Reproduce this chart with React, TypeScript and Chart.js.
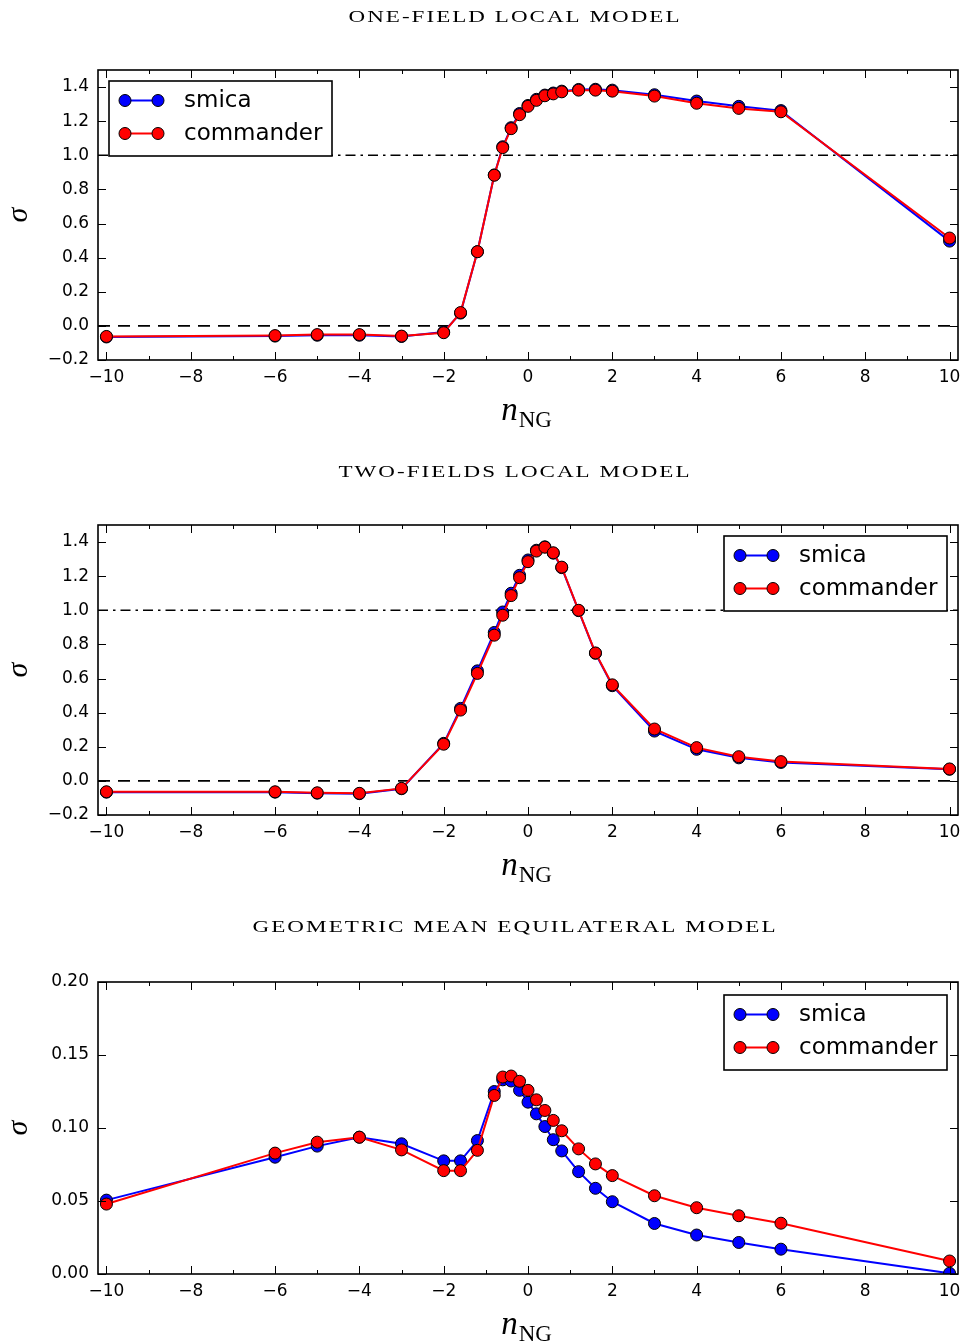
import React, { useEffect, useRef } from 'react';
import { Chart, registerables } from 'chart.js';

Chart.register(...registerables);

// Non-Gaussianity index sampled on the same grid for every model
const nNG = [-10, -6, -5, -4, -3, -2, -1.6, -1.2, -0.8, -0.6, -0.4, -0.2, 0, 0.2, 0.4, 0.6, 0.8, 1.2, 1.6, 2, 3, 4, 5, 6, 10];

const xTickValues = [-10, -9, -8, -7, -6, -5, -4, -3, -2, -1, 0, 1, 2, 3, 4, 5, 6, 7, 8, 9, 10];

const oneFieldSmica = [-0.065, -0.06, -0.055, -0.055, -0.062, -0.036, 0.075, 0.435, 0.885, 1.05, 1.162, 1.245, 1.292, 1.328, 1.353, 1.365, 1.376, 1.386, 1.387, 1.382, 1.355, 1.318, 1.287, 1.262, 0.497];
const oneFieldCommander = [-0.062, -0.057, -0.051, -0.051, -0.06, -0.04, 0.078, 0.435, 0.883, 1.045, 1.156, 1.238, 1.287, 1.322, 1.349, 1.36, 1.372, 1.382, 1.382, 1.376, 1.347, 1.305, 1.275, 1.255, 0.515];

const twoFieldsSmica = [-0.066, -0.066, -0.072, -0.075, -0.046, 0.22, 0.425, 0.645, 0.87, 0.99, 1.1, 1.205, 1.295, 1.352, 1.372, 1.335, 1.25, 0.998, 0.748, 0.558, 0.292, 0.185, 0.135, 0.108, 0.068];
const twoFieldsCommander = [-0.064, -0.064, -0.07, -0.073, -0.044, 0.215, 0.415, 0.63, 0.854, 0.971, 1.086, 1.191, 1.285, 1.347, 1.37, 1.337, 1.253, 1.0, 0.75, 0.563, 0.304, 0.195, 0.142, 0.113, 0.07];

const equilateralSmica = [0.0506, 0.08, 0.0876, 0.0937, 0.0892, 0.0775, 0.0775, 0.0914, 0.125, 0.133, 0.1322, 0.1258, 0.1177, 0.1097, 0.101, 0.092, 0.0843, 0.0701, 0.0587, 0.0495, 0.0346, 0.0267, 0.0216, 0.017, 0.0005];
const equilateralCommander = [0.0479, 0.0828, 0.0903, 0.0937, 0.085, 0.0708, 0.0708, 0.0847, 0.1223, 0.1349, 0.1356, 0.132, 0.1258, 0.1193, 0.112, 0.1052, 0.0981, 0.0857, 0.0754, 0.0674, 0.0536, 0.0454, 0.0399, 0.0348, 0.0089];

const sigmaTicksLocal = [-0.2, 0, 0.2, 0.4, 0.6, 0.8, 1.0, 1.2, 1.4];
const sigmaTicksEquil = [0, 0.05, 0.1, 0.15, 0.2];

const seriesNames = ['smica', 'commander'];
const seriesColors = ['#0000ff', '#ff0000'];

const DASHED = [12, 8];
const DASH_DOT = [10, 5, 2.5, 5];

const TICK_FONT = '17px "DejaVu Sans"';

type PanelSpec = {
  title: string;
  titleWidth: number;
  smica: number[];
  commander: number[];
  yMin: number;
  yMax: number;
  yTicks: number[];
  yDecimals: number;
  refLines: { value: number; dash: number[] }[];
  legendLeft: number;
  legendTop: number;
  height: number;
  top: number;
  bottom: number;
};

const panels: PanelSpec[] = [
  {
    title: 'ONE-FIELD LOCAL MODEL',
    titleWidth: 331,
    smica: oneFieldSmica,
    commander: oneFieldCommander,
    yMin: -0.2,
    yMax: 1.5,
    yTicks: sigmaTicksLocal,
    yDecimals: 1,
    refLines: [
      { value: 0, dash: DASHED },
      { value: 1, dash: DASH_DOT },
    ],
    legendLeft: 109,
    legendTop: 81,
    height: 455,
    top: 70,
    bottom: 360,
  },
  {
    title: 'TWO-FIELDS LOCAL MODEL',
    titleWidth: 351,
    smica: twoFieldsSmica,
    commander: twoFieldsCommander,
    yMin: -0.2,
    yMax: 1.5,
    yTicks: sigmaTicksLocal,
    yDecimals: 1,
    refLines: [
      { value: 0, dash: DASHED },
      { value: 1, dash: DASH_DOT },
    ],
    legendLeft: 724,
    legendTop: 81,
    height: 455,
    top: 70,
    bottom: 360,
  },
  {
    title: 'GEOMETRIC MEAN EQUILATERAL MODEL',
    titleWidth: 523,
    smica: equilateralSmica,
    commander: equilateralCommander,
    yMin: 0,
    yMax: 0.2,
    yTicks: sigmaTicksEquil,
    yDecimals: 2,
    refLines: [],
    legendLeft: 724,
    legendTop: 85,
    height: 433,
    top: 72,
    bottom: 364,
  },
];

const fmt = (v: number, d: number) => v.toFixed(d).replace('-', '\u2212');

function makeDecor(spec: PanelSpec) {
  return {
    id: 'decor',
    beforeDatasetsDraw(chart: any) {
      const { ctx, chartArea: a, scales } = chart;
      const y = scales.y;
      ctx.save();
      ctx.beginPath();
      ctx.rect(a.left, a.top, a.right - a.left, a.bottom - a.top);
      ctx.clip();
      ctx.strokeStyle = '#000';
      ctx.lineWidth = 1.6;
      for (const r of spec.refLines) {
        const py = y.getPixelForValue(r.value);
        ctx.setLineDash(r.dash);
        ctx.beginPath();
        ctx.moveTo(a.left, py);
        ctx.lineTo(a.right, py);
        ctx.stroke();
      }
      ctx.restore();
    },
    afterDraw(chart: any) {
      const { ctx, chartArea: a, scales } = chart;
      const x = scales.x;
      const y = scales.y;
      ctx.save();
      ctx.strokeStyle = '#000';
      ctx.setLineDash([]);

      // inward tick marks on all four sides
      ctx.lineWidth = 1;
      const seg = (x1: number, y1: number, x2: number, y2: number) => {
        ctx.beginPath();
        ctx.moveTo(x1, y1);
        ctx.lineTo(x2, y2);
        ctx.stroke();
      };
      for (const v of xTickValues) {
        const px = Math.round(x.getPixelForValue(v)) + 0.5;
        const len = v % 2 === 0 ? 8 : 4;
        seg(px, a.bottom, px, a.bottom - len);
        seg(px, a.top, px, a.top + len);
      }
      for (const v of spec.yTicks) {
        const py = Math.round(y.getPixelForValue(v)) + 0.5;
        seg(a.left, py, a.left + 8, py);
        seg(a.right, py, a.right - 8, py);
      }

      // x tick labels on the even values
      ctx.fillStyle = '#000';
      ctx.font = TICK_FONT;
      ctx.textAlign = 'center';
      ctx.textBaseline = 'top';
      for (const v of xTickValues) {
        if (v % 2 !== 0) continue;
        ctx.fillText(fmt(v, 0), x.getPixelForValue(v), a.bottom + 9);
      }

      // axes frame
      ctx.lineWidth = 1.6;
      ctx.strokeRect(a.left, a.top, a.right - a.left, a.bottom - a.top);

      // legend
      const lx = spec.legendLeft;
      const ly = spec.legendTop;
      ctx.fillStyle = '#fff';
      ctx.fillRect(lx, ly, 223, 75);
      ctx.lineWidth = 1.6;
      ctx.strokeRect(lx, ly, 223, 75);
      ctx.font = '23px "DejaVu Sans"';
      ctx.textBaseline = 'middle';
      ctx.textAlign = 'left';
      seriesNames.forEach((name, i) => {
        const ry = ly + 19.5 + i * 33;
        ctx.strokeStyle = seriesColors[i];
        ctx.lineWidth = 2;
        seg(lx + 16, ry, lx + 49, ry);
        for (const mx of [lx + 16, lx + 49]) {
          ctx.beginPath();
          ctx.arc(mx, ry, 6, 0, Math.PI * 2);
          ctx.fillStyle = seriesColors[i];
          ctx.fill();
          ctx.lineWidth = 1;
          ctx.strokeStyle = '#000';
          ctx.stroke();
        }
        ctx.fillStyle = '#000';
        ctx.fillText(name, lx + 75, ry + 1);
      });

      // panel title in wide capitals
      ctx.fillStyle = '#000';
      ctx.font = '17px "Liberation Serif"';
      ctx.textBaseline = 'middle';
      ctx.textAlign = 'left';
      (ctx as any).letterSpacing = '1.5px';
      const w = ctx.measureText(spec.title).width - 1.5;
      ctx.save();
      ctx.translate(514 - spec.titleWidth / 2, 18);
      ctx.scale(spec.titleWidth / w, 1);
      ctx.fillText(spec.title, 0, 0);
      ctx.restore();
      (ctx as any).letterSpacing = '0px';

      // x-axis label: n_NG
      const cx = (a.left + a.right) / 2;
      ctx.textBaseline = 'alphabetic';
      ctx.font = 'italic 33px "Liberation Serif"';
      const nW = ctx.measureText('n').width;
      ctx.font = '23px "Liberation Serif"';
      const sW = ctx.measureText('NG').width;
      const start = cx - (nW + sW) / 2 - 2;
      ctx.font = 'italic 33px "Liberation Serif"';
      ctx.fillText('n', start, a.bottom + 60);
      ctx.font = '23px "Liberation Serif"';
      ctx.fillText('NG', start + nW + 1, a.bottom + 67);

      // y-axis label: sigma
      ctx.translate(27, (a.top + a.bottom) / 2);
      ctx.rotate(-Math.PI / 2);
      ctx.textAlign = 'center';
      ctx.font = 'italic 30px "Liberation Serif"';
      ctx.fillText('\u03c3', 0, 0);
      ctx.restore();
    },
  };
}

function Panel({ spec }: { spec: PanelSpec }) {
  const ref = useRef<HTMLCanvasElement>(null);

  useEffect(() => {
    if (!ref.current) return;
    const series = [spec.smica, spec.commander];
    const chart = new Chart(ref.current, {
      type: 'line',
      data: {
        datasets: seriesNames.map((name, i) => ({
          label: name,
          data: nNG.map((v, k) => ({ x: v, y: series[i][k] })),
          borderColor: seriesColors[i],
          backgroundColor: seriesColors[i],
          pointBackgroundColor: seriesColors[i],
          pointBorderColor: '#000',
          pointBorderWidth: 1,
          pointRadius: 6,
          borderWidth: 2,
          tension: 0,
          fill: false,
          clip: 0,
          order: seriesNames.length - i,
        })),
      },
      options: {
        animation: false,
        responsive: false,
        maintainAspectRatio: false,
        events: [],
        layout: { autoPadding: false, padding: { top: spec.top, right: 4, left: 0, bottom: 0 } },
        plugins: {
          legend: { display: false },
          tooltip: { enabled: false },
          title: { display: false },
        },
        scales: {
          x: {
            type: 'linear',
            min: -10.2,
            max: 10.2,
            grid: { display: false, drawTicks: false },
            border: { display: false },
            ticks: { display: false },
            afterFit: (s: any) => {
              s.height = spec.height - spec.bottom;
            },
          },
          y: {
            type: 'linear',
            min: spec.yMin,
            max: spec.yMax,
            grid: { display: false, drawTicks: false },
            border: { display: false },
            afterBuildTicks: (s: any) => {
              s.ticks = spec.yTicks.map((v) => ({ value: v }));
            },
            afterFit: (s: any) => {
              s.width = 98;
            },
            ticks: {
              autoSkip: false,
              padding: 9,
              color: '#000',
              font: { family: 'DejaVu Sans', size: 17 },
              callback: (v: any) => fmt(Number(v), spec.yDecimals),
            },
          },
        },
      },
      plugins: [makeDecor(spec)],
    } as any);
    return () => chart.destroy();
  }, [spec]);

  return (
    <canvas
      ref={ref}
      width={962}
      height={spec.height}
      style={{ display: 'block', width: 962, height: spec.height }}
    />
  );
}

export default function App() {
  return (
    <div
      style={{
        position: 'absolute',
        left: 0,
        top: 0,
        width: 962,
        height: 1343,
        overflow: 'hidden',
        background: '#fff',
      }}
    >
      {panels.map((p) => (
        <Panel key={p.title} spec={p} />
      ))}
    </div>
  );
}
